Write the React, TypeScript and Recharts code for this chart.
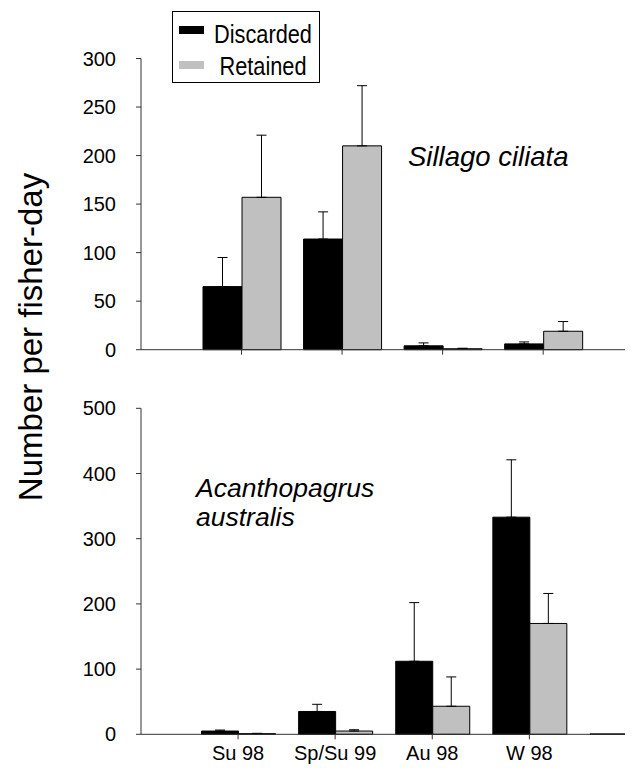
import React from 'react';
import { BarChart, Bar, XAxis, YAxis, ErrorBar, Legend } from 'recharts';

const categories = ['Su 98', 'Sp/Su 99', 'Au 98', 'W 98', ''];
const xTickLabels = ['Su 98', 'Sp/Su 99', 'Au 98', 'W 98'];

const sillagoDiscarded = [65, 114, 4, 6, null];
const sillagoDiscardedErr = [30, 28, 3, 2, null];
const sillagoRetained = [157, 210, 1, 19, null];
const sillagoRetainedErr = [64, 62, 0.5, 10, null];

const acanthoDiscarded = [5, 35, 112, 333, 0.6];
const acanthoDiscardedErr = [1.5, 11, 90, 88, null];
const acanthoRetained = [1, 5, 43, 170, null];
const acanthoRetainedErr = [0.5, 2, 45, 46, null];

const sillagoTicks = [0, 50, 100, 150, 200, 250, 300];
const acanthoTicks = [0, 100, 200, 300, 400, 500];

const FONT = '"Liberation Sans", Arial, sans-serif';
const AXIS = '#333';

const build = (d: (number | null)[], de: (number | null)[], r: (number | null)[], re: (number | null)[]) =>
  categories.map((cat, i) => ({
    cat,
    discarded: d[i],
    retained: r[i],
    dErr: de[i] == null ? null : [0, de[i]],
    rErr: re[i] == null ? null : [0, re[i]],
  }));

const topData = build(sillagoDiscarded, sillagoDiscardedErr, sillagoRetained, sillagoRetainedErr);
const bottomData = build(acanthoDiscarded, acanthoDiscardedErr, acanthoRetained, acanthoRetainedErr);

const legendText: React.CSSProperties = {
  position: 'absolute',
  left: 30,
  width: 120,
  lineHeight: '28px',
  textAlign: 'center',
  transform: 'scaleX(0.87)',
  transformOrigin: '60px 14px',
  whiteSpace: 'nowrap',
};

const LegendBox = () => (
  <div
    style={{
      position: 'relative',
      width: 148,
      height: 72,
      border: '1px solid #000',
      background: '#fff',
      fontFamily: FONT,
      fontSize: 25,
      color: '#000',
      boxSizing: 'border-box',
    }}
  >
    <div style={{ position: 'absolute', left: 6, top: 14, width: 25, height: 8, background: '#000' }} />
    <div style={{ position: 'absolute', left: 6, top: 49, width: 25, height: 8, background: '#c0c0c0' }} />
    <div style={{ ...legendText, top: 8 }}>Discarded</div>
    <div style={{ ...legendText, top: 40 }}>Retained</div>
  </div>
);

export default function App() {
  return (
    <div style={{ position: 'relative', width: 625, height: 763, overflow: 'hidden', fontFamily: FONT }}>
      <div style={{ position: 'absolute', left: 0, top: 0 }}>
        <BarChart
          width={686}
          height={372}
          data={topData}
          margin={{ top: 50.5, right: 0, bottom: 0, left: 73 }}
          barCategoryGap="11.7%"
          barGap={0}
        >
          <XAxis
            dataKey="cat"
            height={30.3}
            padding={{ left: 50.25, right: 0 }}
            ticks={xTickLabels}
            interval={0}
            tickSize={5}
            tickFormatter={() => ''}
            stroke={AXIS}
            axisLine={{ stroke: AXIS }}
            tickLine={{ stroke: AXIS }}
          />
          <YAxis
            width={60}
            domain={[0, 300]}
            ticks={sillagoTicks}
            interval={0}
            tickSize={5}
            tickMargin={20}
            axisLine={{ stroke: AXIS }}
            tickLine={{ stroke: AXIS }}
            tick={{ fill: '#000', fontSize: 20, fontFamily: FONT }}
          />
          <Legend
            layout="vertical"
            align="center"
            verticalAlign="middle"
            wrapperStyle={{ left: 163.7, top: 3, width: 148, height: 72 }}
            content={() => <LegendBox />}
          />
          <Bar dataKey="discarded" name="Discarded" fill="#000" stroke="#000" strokeWidth={1} isAnimationActive={false}>
            <ErrorBar dataKey="dErr" direction="y" width={5} stroke="#000" strokeWidth={1} />
          </Bar>
          <Bar dataKey="retained" name="Retained" fill="#c0c0c0" stroke="#000" strokeWidth={1} isAnimationActive={false}>
            <ErrorBar dataKey="rErr" direction="y" width={5} stroke="#000" strokeWidth={1} />
          </Bar>
        </BarChart>
      </div>

      <div style={{ position: 'absolute', left: 0, top: 372 }}>
        <BarChart
          width={667}
          height={391}
          data={bottomData}
          margin={{ top: 28.3, right: 0, bottom: 0, left: 73 }}
          barCategoryGap="12.4%"
          barGap={0}
        >
          <XAxis
            dataKey="cat"
            height={36.7}
            padding={{ left: 48.5, right: 0 }}
            ticks={xTickLabels}
            interval={0}
            tickSize={5}
            tickMargin={6}
            stroke={AXIS}
            axisLine={{ stroke: AXIS }}
            tickLine={{ stroke: AXIS }}
            tick={{ fill: '#000', fontSize: 20, fontFamily: FONT }}
          />
          <YAxis
            width={60}
            domain={[0, 500]}
            ticks={acanthoTicks}
            interval={0}
            tickSize={5}
            tickMargin={20}
            axisLine={{ stroke: AXIS }}
            tickLine={{ stroke: AXIS }}
            tick={{ fill: '#000', fontSize: 20, fontFamily: FONT }}
          />
          <Bar dataKey="discarded" name="Discarded" fill="#000" stroke="#000" strokeWidth={1} isAnimationActive={false}>
            <ErrorBar dataKey="dErr" direction="y" width={5} stroke="#000" strokeWidth={1} />
          </Bar>
          <Bar dataKey="retained" name="Retained" fill="#c0c0c0" stroke="#000" strokeWidth={1} isAnimationActive={false}>
            <ErrorBar dataKey="rErr" direction="y" width={5} stroke="#000" strokeWidth={1} />
          </Bar>
        </BarChart>
      </div>

      <div style={{ position: 'absolute', left: 400, top: 133, fontSize: 27.5, lineHeight: '32px', fontStyle: 'italic', whiteSpace: 'nowrap' }}>
        Sillago ciliata
      </div>
      <div style={{ position: 'absolute', left: 188, top: 466, fontSize: 26.5, lineHeight: '29px', fontStyle: 'italic', whiteSpace: 'nowrap' }}>
        Acanthopagrus
        <br />
        australis
      </div>

      <svg style={{ position: 'absolute', left: 0, top: 0 }} width={60} height={763}>
        <text
          x={22}
          y={329}
          transform="rotate(-90 22 329)"
          textAnchor="middle"
          dominantBaseline="central"
          fontSize={33}
          fontFamily={FONT}
          fill="#000"
        >
          Number per fisher-day
        </text>
      </svg>
    </div>
  );
}
